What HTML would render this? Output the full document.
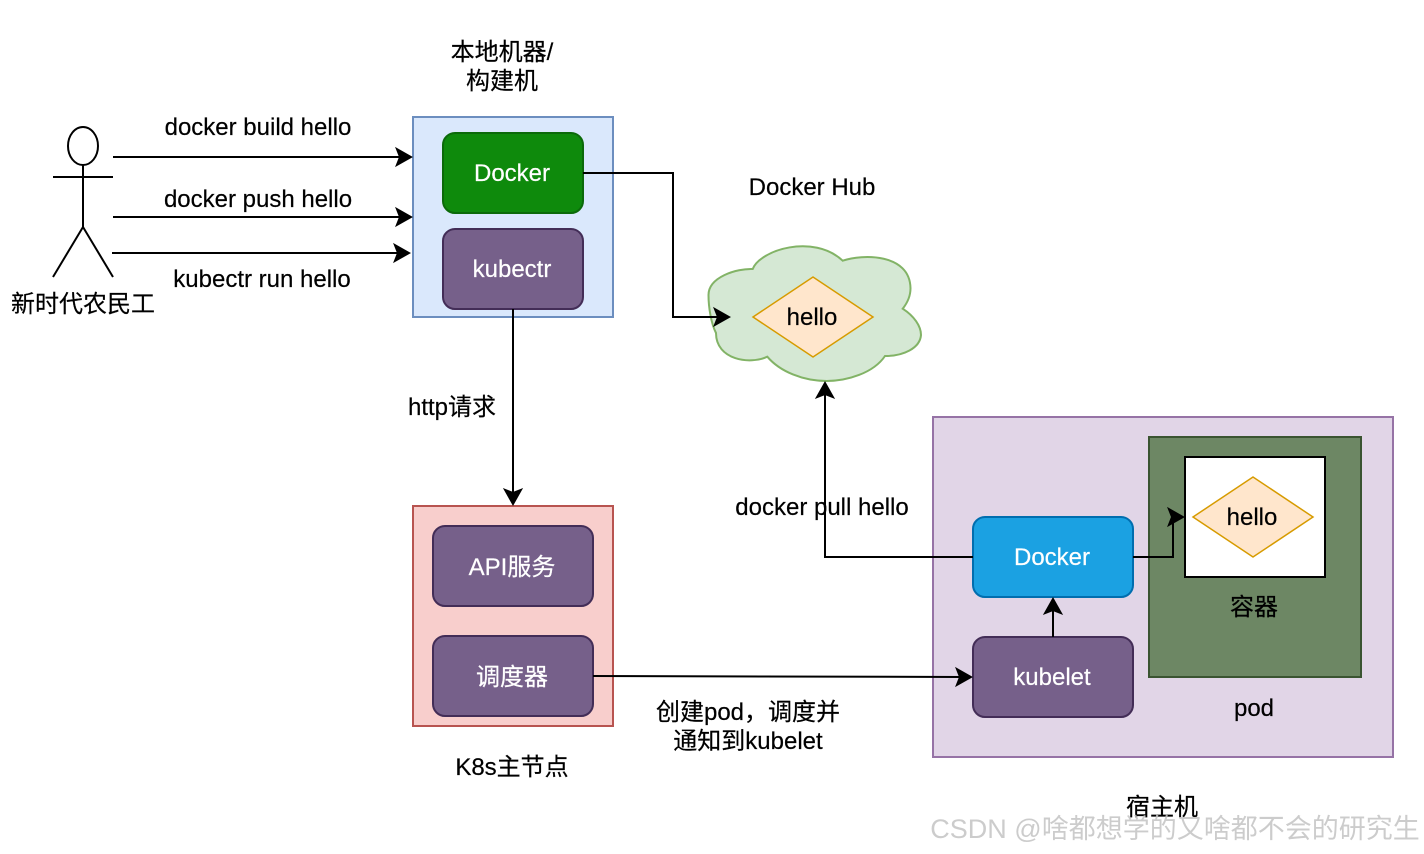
<!DOCTYPE html>
<html>
<head>
<meta charset="utf-8">
<style>
html,body{margin:0;padding:0;background:#fff;width:1424px;height:854px;overflow:hidden}
svg{display:block}
text{font-family:"Liberation Sans","Noto Sans CJK SC",sans-serif;font-size:24px;fill:#000;text-anchor:middle;stroke:#000;stroke-width:.2px}
text.w{fill:#fff;stroke:#fff}
.l{fill:none;stroke:#000;stroke-width:2}
</style>
</head>
<body>
<svg width="1424" height="854" viewBox="0 0 1424 854" xmlns="http://www.w3.org/2000/svg">
<defs>
<path id="ar" d="M-1 0 L-17 -9 L-13.500 0 L-17 9 Z" fill="#000" stroke="#000" stroke-width="1"/>
</defs>

<!-- Local machine -->
<rect x="413" y="117" width="200" height="200" fill="#dae8fc" stroke="#6c8ebf" stroke-width="2"/>
<rect x="443" y="133" width="140" height="80" rx="12" fill="#0e8a0c" stroke="#0b6a0a" stroke-width="2"/>
<rect x="443" y="229" width="140" height="80" rx="12" fill="#76608a" stroke="#432d57" stroke-width="2"/>

<!-- K8s master -->
<rect x="413" y="506" width="200" height="220" fill="#f8cecc" stroke="#b85450" stroke-width="2"/>
<rect x="433" y="526" width="160" height="80" rx="12" fill="#76608a" stroke="#432d57" stroke-width="2"/>
<rect x="433" y="636" width="160" height="80" rx="12" fill="#76608a" stroke="#432d57" stroke-width="2"/>

<!-- Host -->
<rect x="933" y="417" width="460" height="340" fill="#e1d5e7" stroke="#9673a6" stroke-width="2"/>
<rect x="1149" y="437" width="212" height="240" fill="#6d8764" stroke="#3a5431" stroke-width="2"/>
<rect x="1185" y="457" width="140" height="120" fill="#fff" stroke="#000" stroke-width="2"/>
<rect x="973" y="517" width="160" height="80" rx="12" fill="#1ba1e2" stroke="#006eaf" stroke-width="2"/>
<rect x="973" y="637" width="160" height="80" rx="12" fill="#76608a" stroke="#432d57" stroke-width="2"/>
<polygon points="1193,517 1253,477 1313,517 1253,557" fill="#ffe6cc" stroke="#d79b00" stroke-width="1.500"/>

<!-- Cloud -->
<path d="M752.700 269 C760 250 813.300 233.300 842.700 260.700 C862 254 910 253 910.500 288.300 C910.500 296.700 907 303.300 902.700 308.700 C914 316 921 326 921 335 C920 348.300 903.300 356 885 356 C873.300 373.300 846.700 381 826.700 381 C803.300 381 780 371.700 767.300 356.700 C750 365 716 360 716 333 C711 323.300 708.500 306.700 708.500 295 C708.500 277 736.700 268.300 752.700 269 Z" fill="#d5e8d4" stroke="#82b366" stroke-width="2"/>
<polygon points="753,317 813,277 873,317 813,357" fill="#ffe6cc" stroke="#d79b00" stroke-width="1.500"/>

<!-- Stick figure -->
<g fill="none" stroke="#000" stroke-width="2">
<ellipse cx="83" cy="146" rx="15" ry="19" fill="#fff"/>
<path d="M83 165 V227 M53 177 H113 M83 227 L53 277 M83 227 L113 277"/>
</g>

<!-- Connectors -->
<path class="l" d="M113 157 H402"/><use href="#ar" x="413" y="157"/>
<path class="l" d="M113 217 H402"/><use href="#ar" x="413" y="217"/>
<path class="l" d="M112 253 H400"/><use href="#ar" x="411" y="253"/>
<path class="l" d="M583 173 H673 V317 H720"/><use href="#ar" x="731" y="317"/>
<path class="l" d="M513 309 V495"/><use href="#ar" transform="translate(513 506) rotate(90)"/>
<path class="l" d="M593 676 L962 677"/><use href="#ar" x="973" y="677"/>
<path class="l" d="M973 557 H825 V392"/><use href="#ar" transform="translate(825 381) rotate(-90)"/>
<path class="l" d="M1133 557 H1173 V517"/><use href="#ar" x="1185" y="517"/>
<path class="l" d="M1053 637 V608"/><use href="#ar" transform="translate(1053 597) rotate(-90)"/>

<!-- Labels -->
<text x="502" y="60">本地机器/</text>
<text x="502" y="89">构建机</text>
<text x="258" y="135">docker build hello</text>
<text x="258" y="207">docker push hello</text>
<text x="262" y="287">kubectr run hello</text>
<text x="83" y="312">新时代农民工</text>
<text x="512" y="181" class="w">Docker</text>
<text x="512" y="277" class="w">kubectr</text>
<text x="812" y="195">Docker Hub</text>
<text x="812" y="325">hello</text>
<text x="452" y="415">http请求</text>
<text x="512" y="575" class="w">API服务</text>
<text x="512" y="685" class="w">调度器</text>
<text x="512" y="775">K8s主节点</text>
<text x="748" y="720">创建pod，调度并</text>
<text x="748" y="749">通知到kubelet</text>
<text x="822" y="515">docker pull hello</text>
<text x="1052" y="565" class="w">Docker</text>
<text x="1052" y="685" class="w">kubelet</text>
<text x="1252" y="525">hello</text>
<text x="1254" y="615">容器</text>
<text x="1254" y="716">pod</text>
<text x="1162" y="815">宿主机</text>
<text x="1175" y="838" style="font-size:27px;fill:#c4c4c4;stroke:none;opacity:.85">CSDN @啥都想学的又啥都不会的研究生</text>
</svg>
</body>
</html>
